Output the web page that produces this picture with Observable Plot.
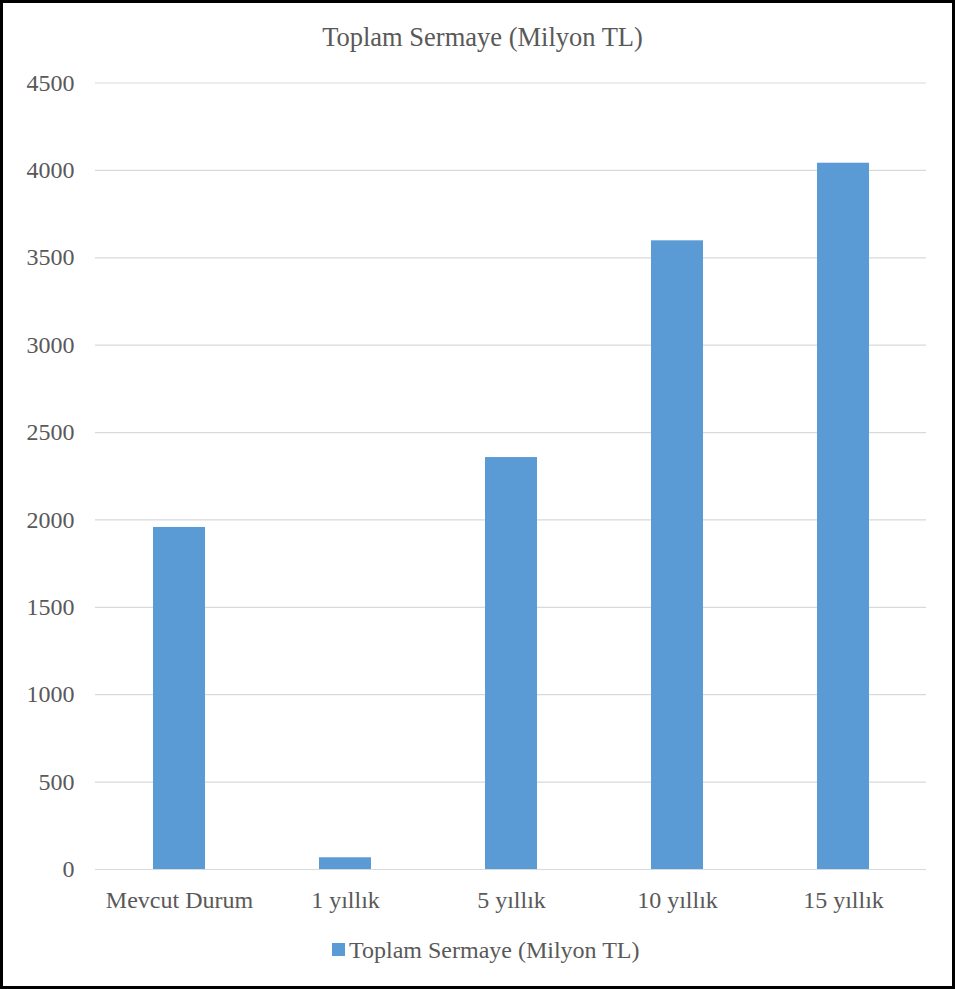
<!DOCTYPE html>
<html>
<head>
<meta charset="utf-8">
<script src="https://cdn.jsdelivr.net/npm/d3@7"></script>
<script src="https://cdn.jsdelivr.net/npm/@observablehq/plot@0.6"></script>
<style>
  html, body { margin: 0; padding: 0; background: #fff; }
  #chart {
    position: relative; width: 955px; height: 989px; background: #fff;
    font-family: "Liberation Serif", "Times New Roman", serif; color: #595959;
  }
  #frame {
    position: absolute; left: 0; top: 0; width: 955px; height: 989px;
    box-sizing: border-box; border: 3px solid #000; pointer-events: none; z-index: 5;
  }
  #title {
    position: absolute; left: 5px; width: 955px; top: 24px;
    text-align: center; font-size: 26.5px; line-height: 26.5px; white-space: nowrap;
  }
  #plot { position: absolute; left: 0; top: 60px; }
  #legend-swatch {
    position: absolute; left: 332px; top: 943px; width: 13px; height: 13px; background: #5B9BD5;
  }
  #legend-text {
    position: absolute; left: 349px; top: 938px; font-size: 24px; line-height: 24px; white-space: nowrap;
  }
</style>
</head>
<body>
<div id="chart">
  <div id="title">Toplam Sermaye (Milyon TL)</div>
  <div id="plot"></div>
  <div id="legend-swatch"></div>
  <div id="legend-text">Toplam Sermaye (Milyon TL)</div>
  <div id="frame"></div>
</div>
<script>
// Total capital (million TL) by scenario
const categories = ["Mevcut Durum", "1 yıllık", "5 yıllık", "10 yıllık", "15 yıllık"];
const capital = [1957, 67, 2357, 3597, 4041];
const yTicks = [0, 500, 1000, 1500, 2000, 2500, 3000, 3500, 4000, 4500];

const rows = categories.map((c, i) => ({category: c, value: capital[i]}));

const chart = Plot.plot({
  width: 955,
  height: 870,
  marginTop: 22.5,
  marginBottom: 61,
  marginLeft: 95,
  marginRight: 29,
  style: {
    fontFamily: '"Liberation Serif", "Times New Roman", serif',
    fontSize: "24px",
    color: "#595959",
    background: "transparent",
    overflow: "visible"
  },
  x: {domain: categories, paddingInner: 0.687, paddingOuter: 0.3435, label: null},
  y: {domain: [0, 4500], label: null},
  marks: [
    Plot.ruleY(yTicks, {stroke: "#d9d9d9", strokeWidth: 1.2}),
    Plot.barY(rows, {x: "category", y: "value", fill: "#5B9BD5"}),
    Plot.axisX({tickSize: 0, tickPadding: 21, fontSize: 24, label: null}),
    Plot.axisY({ticks: yTicks, tickFormat: d => String(d), tickSize: 0, tickPadding: 21, fontSize: 24, label: null})
  ]
});
document.getElementById("plot").appendChild(chart);
</script>
</body>
</html>
